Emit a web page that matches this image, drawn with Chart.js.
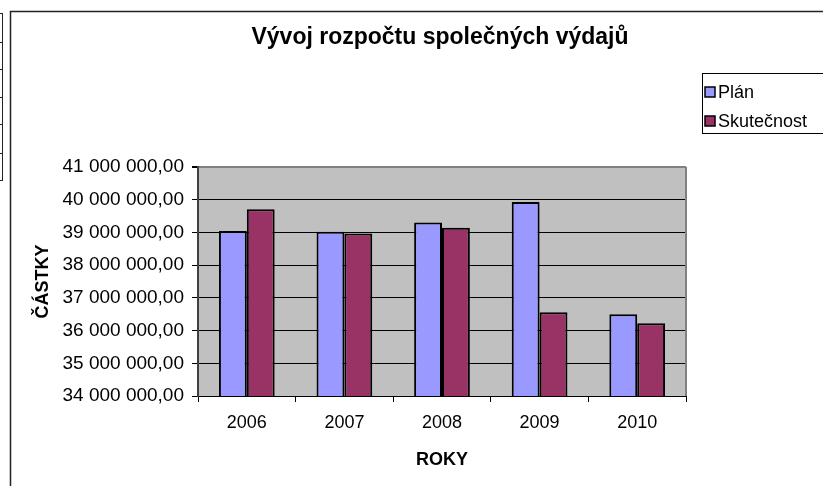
<!DOCTYPE html>
<html lang="cs">
<head>
<meta charset="UTF-8">
<title>Vývoj rozpočtu společných výdajů</title>
<script src="https://cdn.jsdelivr.net/npm/chart.js"></script>
<style>
    body {
        margin: 0;
        background: #ffffff;
        font-family: "Liberation Sans", Arial, sans-serif;
    }
    #wrap {
        width: 823px;
        height: 486px;
    }
</style>
</head>
<body>
<div id="wrap">
    <canvas id="chart" width="823" height="486"></canvas>
</div>
<script>
    // data
    const years = ["2006", "2007", "2008", "2009", "2010"];
    const plan = [39040000, 39020000, 39300000, 39930000, 36500000];
    const actual = [39710000, 38970000, 39140000, 36560000, 36220000];
    const yTicks = [34000000, 35000000, 36000000, 37000000, 38000000, 39000000, 40000000, 41000000];

    const FONT = "'Liberation Sans', Arial, sans-serif";

    // 41 000 000,00
    function czNumber(v) {
        const parts = v.toFixed(2).split(".");
        const whole = parts[0].replace(/\B(?=(\d{3})+(?!\d))/g, " ");
        return whole + "," + parts[1];
    }

    const decor = {
        id: "decor",
        beforeDraw(chart) {
            const ctx = chart.ctx;
            const a = chart.chartArea;
            ctx.save();
            ctx.fillStyle = "#ffffff";
            ctx.fillRect(0, 0, chart.width, chart.height);
            ctx.fillStyle = "#c0c0c0";
            ctx.fillRect(a.left, a.top, a.right - a.left, a.bottom - a.top);
            ctx.restore();
        },
        beforeDatasetsDraw(chart) {
            const ctx = chart.ctx;
            const a = chart.chartArea;
            ctx.save();
            ctx.strokeStyle = "#808080";
            ctx.lineWidth = 2;
            ctx.beginPath();
            ctx.moveTo(a.right, a.top);
            ctx.lineTo(a.right, a.bottom);
            ctx.stroke();
            ctx.restore();
        },
        afterDraw(chart) {
            const ctx = chart.ctx;
            ctx.save();

            // outer frame (runs off the right and bottom edges)
            ctx.strokeStyle = "#222";
            ctx.lineWidth = 1.5;
            ctx.beginPath();
            ctx.moveTo(10.5, chart.height);
            ctx.lineTo(10.5, 11.5);
            ctx.lineTo(chart.width, 11.5);
            ctx.stroke();

            // bit of the sheet grid left of the chart
            ctx.lineWidth = 1;
            ctx.beginPath();
            ctx.moveTo(2.5, 13);
            ctx.lineTo(2.5, 181);
            [13, 42, 69, 97, 124, 153, 180].forEach(y => {
                ctx.moveTo(0, y + 0.5);
                ctx.lineTo(3, y + 0.5);
            });
            ctx.stroke();

            // title
            ctx.fillStyle = "#000";
            ctx.font = "bold 23px " + FONT;
            ctx.textAlign = "center";
            ctx.textBaseline = "alphabetic";
            ctx.fillText("Vývoj rozpočtu společných výdajů", 440, 44);

            // legend
            ctx.strokeStyle = "#000";
            ctx.lineWidth = 1;
            ctx.strokeRect(702.5, 73.5, 140, 60);
            ctx.font = "18px " + FONT;
            ctx.textAlign = "left";
            ctx.textBaseline = "middle";
            chart.data.datasets.forEach((ds, i) => {
                const cy = 92 + i * 29;
                ctx.fillStyle = ds.backgroundColor;
                ctx.fillRect(705, cy - 5, 10, 10);
                ctx.lineWidth = 1.5;
                ctx.strokeRect(705, cy - 5, 10, 10);
                ctx.fillStyle = "#000";
                ctx.fillText(ds.label, 718, cy + 1);
            });

            ctx.restore();
        }
    };

    new Chart(document.getElementById("chart"), {
        type: "bar",
        data: {
            labels: years,
            datasets: [
                {
                    label: "Plán",
                    data: plan,
                    backgroundColor: "#9999ff",
                    borderColor: "#000",
                    borderWidth: 2,
                    borderSkipped: "bottom"
                },
                {
                    label: "Skutečnost",
                    data: actual,
                    backgroundColor: "#993366",
                    borderColor: "#000",
                    borderWidth: 2,
                    borderSkipped: "bottom"
                }
            ]
        },
        options: {
            responsive: false,
            animation: false,
            layout: {
                padding: { left: 10, right: 137, top: 167, bottom: 0 }
            },
            datasets: {
                bar: {
                    categoryPercentage: 0.571,
                    barPercentage: 1
                }
            },
            plugins: {
                legend: { display: false },
                title: { display: false },
                tooltip: { enabled: false }
            },
            scales: {
                x: {
                    afterFit: s => { s.height = 90; },
                    grid: {
                        offset: true,
                        drawOnChartArea: false,
                        drawTicks: true,
                        tickLength: 6,
                        tickColor: "#000"
                    },
                    border: { color: "#000", width: 1 },
                    ticks: {
                        color: "#000",
                        font: { family: FONT, size: 18 },
                        padding: 10,
                        maxRotation: 0
                    },
                    title: {
                        display: true,
                        text: "ROKY",
                        color: "#000",
                        font: { family: FONT, size: 18, weight: "bold" },
                        padding: { top: 0, bottom: 15 }
                    }
                },
                y: {
                    min: yTicks[0],
                    max: yTicks[yTicks.length - 1],
                    afterFit: s => { s.width = 188; },
                    afterBuildTicks: s => { s.ticks = yTicks.map(v => ({ value: v })); },
                    grid: {
                        color: c => (c.tick && c.tick.value === yTicks[yTicks.length - 1]) ? "#808080" : "#000",
                        lineWidth: c => (c.tick && c.tick.value === yTicks[yTicks.length - 1]) ? 2 : 1,
                        drawTicks: true,
                        tickLength: 6,
                        tickColor: "#000"
                    },
                    border: { color: "#404040", width: 2 },
                    ticks: {
                        color: "#000",
                        font: { family: FONT, size: 19 },
                        padding: 8,
                        callback: v => czNumber(v)
                    },
                    title: {
                        display: true,
                        text: "ČÁSTKY",
                        color: "#000",
                        font: { family: FONT, size: 18, weight: "bold" },
                        padding: { top: 22, bottom: 0 }
                    }
                }
            }
        },
        plugins: [decor]
    });
</script>
</body>
</html>
